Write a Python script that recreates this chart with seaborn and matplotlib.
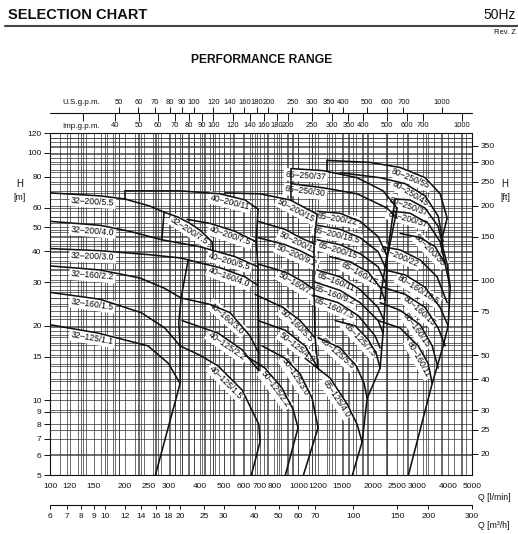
"""
Pump selection chart (50Hz performance range) on log-log Q-H axes.
"""

import matplotlib
matplotlib.use("Agg")
import matplotlib.pyplot as plt
import matplotlib.ticker as mticker
import matplotlib.transforms as mtransforms
from matplotlib.lines import Line2D
import seaborn as sns
import numpy as np

# unit conversions (everything is plotted in l/min and m)
LPM_PER_M3H = 1000.0 / 60.0
LPM_PER_USGPM = 3.785
LPM_PER_IMPGPM = 4.546
M_PER_FT = 0.3048

# axis ticks
Q_LPM_TICKS = [100, 120, 150, 200, 250, 300, 400, 500, 600, 700, 800, 1000,
               1200, 1500, 2000, 2500, 3000, 4000, 5000]
Q_M3H_TICKS = [6, 7, 8, 9, 10, 12, 14, 16, 18, 20, 25, 30, 40, 50, 60, 70,
               100, 150, 200, 300]
USGPM_TICKS = [50, 60, 70, 80, 90, 100, 120, 140, 160, 180, 200, 250, 300,
               350, 400, 500, 600, 700, 1000]
IMPGPM_TICKS = [40, 50, 60, 70, 80, 90, 100, 120, 140, 160, 180, 200, 250,
                300, 350, 400, 500, 600, 700, 1000]
H_M_TICKS = [5, 6, 7, 8, 9, 10, 15, 20, 30, 40, 50, 60, 80, 100, 120]
H_FT_TICKS = [20, 25, 30, 40, 50, 75, 100, 150, 200, 250, 300, 350]

# --- 32 series ---
GROUP32_LABELS = ["32–200/5.5", "32–200/7.5", "32–200/4.0", "32–200/3.0",
                  "32–160/2.2", "32–160/1.5", "32–125/1.1"]
GROUP32_Q = [[100, 159, 200, 253, 288],
             [288, 328, 366, 402, 449, 454],
             [100, 159, 210, 282],
             [100, 159, 253, 334, 360],
             [100, 159, 230, 290, 337],
             [100, 159, 233, 290, 334],
             [100, 156, 248, 300, 334]]
GROUP32_H = [[68.8, 66.9, 65.0, 60.8, 57.5],
             [57.5, 54.9, 51.8, 48.6, 43.7, 39.4],
             [52.8, 50.9, 48.1, 44.5],
             [41.0, 40.2, 38.7, 37.6, 36.9],
             [34.9, 33.6, 31.2, 28.3, 25.9],
             [27.3, 25.6, 22.6, 19.6, 16.6],
             [20.2, 18.7, 16.6, 14.1, 11.7]]
GROUP32_EDGE_Q = [[288, 282], [200, 200], [360, 337, 330, 334, 334, 265]]
GROUP32_EDGE_H = [[57.5, 44.5], [65.0, 70.1], [36.9, 25.9, 20.6, 16.6, 11.7, 4.95]]

# --- 40 series ---
GROUP40_LABELS = ["40–200/11", "40–200/7.5", "40–200/5.5", "40–160/4.0",
                  "40–160/3.0", "40–125/2.2", "40–125/1.5"]
GROUP40_Q = [[200, 334, 484, 610, 688],
             [356, 441, 556, 676],
             [282, 402, 556, 688],
             [360, 484, 610, 688],
             [337, 441, 531, 639, 693],
             [340, 474, 594, 693],
             [334, 402, 474, 594, 693, 701]]
GROUP40_H = [[70.1, 70.1, 68.2, 64.4, 59.1],
             [53.8, 51.8, 48.1, 43.7],
             [44.5, 41.7, 38.0, 34.6],
             [36.9, 34.3, 31.5, 29.1],
             [25.9, 24.4, 22.6, 18.2, 15.5],
             [21.0, 18.7, 16.0, 13.2],
             [16.6, 15.2, 13.8, 11.0, 8.0, 6.8]]
GROUP40_EDGE_Q = [[688, 676, 688, 688, 693, 693], [701, 645]]
GROUP40_EDGE_H = [[59.1, 43.7, 34.6, 29.1, 15.5, 13.2], [6.8, 4.95]]

# --- 50 series ---
GROUP50_LABELS = ["50–200/15", "50–200/11", "50–200/9.2", "50–160/7.5",
                  "50–160/5.5", "50–125/4.0", "50–125/3.0", "50–125/2.2"]
GROUP50_Q = [[507, 701, 926, 1190],
             [688, 884, 1016, 1156],
             [688, 884, 1016, 1156],
             [688, 884, 1016, 1156],
             [669, 868, 1016, 1168],
             [688, 884, 1064, 1200],
             [714, 884, 1016, 1136, 1200],
             [610, 734, 860, 952, 997]]
GROUP50_H = [[68.8, 68.2, 64.4, 56.4],
             [52.8, 49.0, 45.4, 42.9],
             [45.4, 42.5, 40.2, 37.6],
             [35.5, 33.0, 30.6, 28.1],
             [26.8, 23.7, 21.0, 17.9],
             [21.0, 19.2, 16.6, 13.5],
             [16.6, 14.8, 12.8, 10.2, 7.76],
             [15.2, 13.5, 11.2, 9.2, 7.76]]
GROUP50_EDGE_Q = [[1190, 1156, 1156, 1156, 1168, 1200], [997, 884], [1200, 1045]]
GROUP50_EDGE_H = [[56.4, 42.9, 37.6, 28.1, 17.9, 13.5], [7.76, 4.95], [7.76, 4.95]]

# --- 65 series ---
GROUP65_LABELS = ["65–250/37", "65–250/30", "65–200/22", "65–200/18.5",
                  "65–200/15", "65–160/15", "65–160/11", "65–160/9.2",
                  "65–160/7.5", "65–125/7.5", "65–125/5.5", "65–125/4.0"]
GROUP65_Q = [[935, 1257, 1724, 2193, 2498],
             [935, 1257, 1724, 2277, 2498],
             [1190, 1472, 1772, 2095, 2282],
             [1190, 1472, 1772, 2095, 2235],
             [1190, 1472, 1772, 2095, 2235],
             [1342, 1615, 1909, 2133, 2235],
             [1190, 1472, 1772, 2095, 2214],
             [1168, 1472, 1772, 2095, 2193],
             [1146, 1446, 1740, 2037, 2133],
             [1406, 1692, 1909, 2056, 2133],
             [1201, 1472, 1708, 1840, 1892],
             [1064, 1342, 1571, 1724, 1805]]
GROUP65_H = [[86.2, 84.6, 79.2, 70.1, 59.7],
             [74.9, 72.1, 68.2, 59.7, 54.4],
             [58.0, 56.9, 52.8, 45.8, 38.0],
             [50.9, 49.0, 45.4, 39.8, 34.6],
             [44.5, 42.5, 39.1, 34.6, 30.0],
             [38.0, 36.2, 33.0, 28.6, 25.3],
             [33.6, 31.5, 28.0, 23.7, 21.0],
             [30.0, 27.8, 24.8, 21.0, 18.7],
             [26.6, 24.8, 22.0, 18.2, 16.3],
             [21.0, 20.0, 17.6, 15.5, 13.5],
             [17.9, 16.3, 13.8, 11.7, 10.2],
             [14.8, 12.3, 9.67, 8.0, 6.8]]
GROUP65_EDGE_Q = [[935, 935], [2498, 2282, 2235, 2193, 2133, 1892, 1805], [1805, 1645]]
GROUP65_EDGE_H = [[86.2, 64.4], [59.7, 38.0, 25.3, 18.7, 13.5, 10.2, 6.8], [6.8, 4.95]]

# --- 80 series ---
GROUP80_LABELS = ["80–250/55", "80–250/45", "80–250/37", "80–200/37",
                  "80–200/30", "80–200/22", "80–160/18.5", "80–160/15",
                  "80–160/15", "80–160/11"]
GROUP80_Q = [[1305, 1945, 2568, 3238, 3722, 3971],
             [1472, 2133, 2690, 3238, 3653, 3827],
             [2452, 2818, 3238, 3653, 3827],
             [2405, 2818, 3329, 3722, 3899],
             [2568, 3092, 3553, 3899, 4084],
             [2193, 2568, 3092, 3619, 3971],
             [2235, 2690, 3238, 3722, 4009],
             [2193, 2690, 3238, 3653, 3899],
             [2133, 2568, 3092, 3457, 3653],
             [2095, 2568, 3035, 3329, 3457]]
GROUP80_H = [[93.0, 91.3, 87.1, 79.2, 68.2, 54.4],
             [83.0, 79.2, 74.9, 66.9, 55.4, 43.7],
             [65.0, 64.4, 59.7, 50.4, 41.7],
             [58.0, 56.9, 51.8, 43.7, 35.5],
             [47.2, 45.4, 41.7, 35.5, 28.6],
             [41.7, 40.5, 36.9, 31.5, 24.8],
             [33.6, 32.1, 28.6, 23.7, 20.0],
             [28.6, 26.8, 23.7, 19.6, 16.6],
             [24.8, 23.1, 20.2, 16.6, 13.5],
             [21.0, 19.6, 16.6, 14.1, 11.7]]
GROUP80_EDGE_Q = [[1305, 1305], [2452, 2341, 2133],
                  [3971, 3757, 3971, 4084, 4009, 3827, 3457], [3457, 2766]]
GROUP80_EDGE_H = [[93.0, 84.6], [65.0, 46.7, 25.6],
                  [54.4, 43.7, 35.5, 28.6, 20.0, 16.6, 11.7], [11.7, 4.95]]

# where each model label sits along its curve (l/min)
GROUP32_LABEL_AT = [149, 376, 149, 149, 149, 149, 149]
GROUP40_LABEL_AT = [536, 541, 536, 536, 536, 531, 531]
GROUP50_LABEL_AT = [1007, 1016, 1007, 1016, 1025, 1025, 1016, 844]
GROUP65_LABEL_AT = [1074, 1074, 1446, 1446, 1459, 1805, 1446, 1432, 1432, 1840, 1486, 1486]
GROUP80_LABEL_AT = [2897, 2897, 2844, 2792, 3520, 2616, 3121, 3180, 3121, 3209]

# ---------------------------------------------------------------------------
sns.set_style("white")
plt.rcParams['font.family'] = ['Liberation Sans Narrow', 'Liberation Sans', 'DejaVu Sans']
plt.rcParams['axes.linewidth'] = 0.8

INK = '#111111'
GRID = '#333333'

fig = plt.figure(figsize=(5.18, 5.34), dpi=100)
ax = fig.add_axes([50 / 518, 59 / 534, 422 / 518, 342 / 534])
ax.set_xscale('log')
ax.set_yscale('log')
ax.set_xlim(100, 5000)
ax.set_ylim(5, 120)

# grid built from the unit scales shown around the chart
lpm_grid = (list(range(100, 200, 10)) + list(range(200, 500, 20)) + list(range(500, 1000, 50))
            + list(range(1000, 2000, 100)) + list(range(2000, 5001, 250)))
q_grid = sorted(set(lpm_grid) | {v * LPM_PER_M3H for v in Q_M3H_TICKS}
                | {v * LPM_PER_USGPM for v in USGPM_TICKS}
                | {v * LPM_PER_IMPGPM for v in IMPGPM_TICKS + [30]})
m_grid = list(range(5, 20)) + list(range(20, 50, 2)) + list(range(50, 121, 5))
ft_grid = list(range(20, 100, 5)) + list(range(100, 200, 10)) + list(range(200, 400, 25))
h_grid = sorted(set(m_grid) | {v * M_PER_FT for v in ft_grid})
q_grid = [v for v in q_grid if 100 <= v <= 5000]
h_grid = [v for v in h_grid if 5 <= v <= 120]
ax.vlines(q_grid, 5, 120, color=GRID, lw=0.5, zorder=1)
ax.hlines(h_grid, 100, 5000, color=GRID, lw=0.5, zorder=1)


def label_curve(text, q, h, q_at, offset=6.0):
    pts = ax.transData.transform(np.column_stack([q, h]))
    xs, ys = pts[:, 0], pts[:, 1]
    xa = ax.transData.transform([[q_at, 10]])[0, 0]
    ya = np.interp(xa, xs, ys)
    y1 = np.interp(xa - 4, xs, ys)
    y2 = np.interp(xa + 4, xs, ys)
    ang = np.arctan2(y2 - y1, 8.0)
    cx = xa + offset * np.sin(ang)
    cy = ya - offset * np.cos(ang)
    qc, hc = ax.transData.inverted().transform([[cx, cy]])[0]
    ax.text(qc, hc, text, rotation=np.degrees(ang), rotation_mode='anchor',
            ha='center', va='center', fontsize=6.2, color='#000000', zorder=2,
            bbox=dict(boxstyle='square,pad=0.2', fc='white', ec='none'))


groups = [
    (GROUP32_LABELS, GROUP32_Q, GROUP32_H, GROUP32_LABEL_AT, GROUP32_EDGE_Q, GROUP32_EDGE_H),
    (GROUP40_LABELS, GROUP40_Q, GROUP40_H, GROUP40_LABEL_AT, GROUP40_EDGE_Q, GROUP40_EDGE_H),
    (GROUP50_LABELS, GROUP50_Q, GROUP50_H, GROUP50_LABEL_AT, GROUP50_EDGE_Q, GROUP50_EDGE_H),
    (GROUP65_LABELS, GROUP65_Q, GROUP65_H, GROUP65_LABEL_AT, GROUP65_EDGE_Q, GROUP65_EDGE_H),
    (GROUP80_LABELS, GROUP80_Q, GROUP80_H, GROUP80_LABEL_AT, GROUP80_EDGE_Q, GROUP80_EDGE_H),
]
for labels, qs, hs, at, eq, eh in groups:
    for name, q, h, qa in zip(labels, qs, hs, at):
        sns.lineplot(x=q, y=h, ax=ax, sort=False, estimator=None,
                     color=INK, linewidth=1.15, zorder=3)
        label_curve(name, q, h, qa)
    for q, h in zip(eq, eh):
        sns.lineplot(x=q, y=h, ax=ax, sort=False, estimator=None,
                     color=INK, linewidth=1.15, zorder=3)

# left / bottom axes
ax.xaxis.set_minor_locator(mticker.NullLocator())
ax.yaxis.set_minor_locator(mticker.NullLocator())
ax.set_xticks(Q_LPM_TICKS)
ax.set_xticklabels([str(v) for v in Q_LPM_TICKS])
ax.set_yticks(H_M_TICKS)
ax.set_yticklabels([str(v) for v in H_M_TICKS])
ax.tick_params(axis='both', direction='out', length=4, width=0.7,
               labelsize=6, pad=2, color=INK, labelcolor=INK)
ax.set_xlabel('')
ax.set_ylabel('')
for s in ax.spines.values():
    s.set_color(INK)

# right axis in feet
ax2 = ax.twinx()
ax2.set_yscale('log')
ax2.set_ylim(5 / M_PER_FT, 120 / M_PER_FT)
ax2.yaxis.set_minor_locator(mticker.NullLocator())
ax2.set_yticks(H_FT_TICKS)
ax2.set_yticklabels([str(v) for v in H_FT_TICKS])
ax2.tick_params(axis='y', direction='out', length=4, width=0.7,
                labelsize=6, pad=2, color=INK, labelcolor=INK)
for s in ax2.spines.values():
    s.set_visible(False)

# top flow scales (U.S. and Imperial gallons per minute)
tr = mtransforms.blended_transform_factory(ax.transData, ax.transAxes)
y_line = (475 - 113) / 342
ax.plot([100, 5000], [y_line, y_line], color=INK, lw=0.8, transform=tr, clip_on=False)
us_q = [v * LPM_PER_USGPM for v in USGPM_TICKS]
imp_q = [v * LPM_PER_IMPGPM for v in IMPGPM_TICKS]
ax.vlines(us_q, y_line, y_line + 6 / 342, color=INK, lw=0.7, transform=tr, clip_on=False)
ax.vlines(imp_q + [30 * LPM_PER_IMPGPM], y_line - 8 / 342, y_line, color=INK, lw=0.7,
          transform=tr, clip_on=False)
for v, q in zip(USGPM_TICKS, us_q):
    ax.text(q, (475 - 103) / 342, str(v), transform=tr, ha='center', va='center',
            fontsize=5.4, color=INK)
for v, q in zip(IMPGPM_TICKS, imp_q):
    ax.text(q, (475 - 126) / 342, str(v), transform=tr, ha='center', va='center',
            fontsize=5.4, color=INK)
fig.text(81 / 518, 1 - 103 / 534, 'U.S.g.p.m.', ha='center', va='center', fontsize=5.8, color=INK)
fig.text(81 / 518, 1 - 126 / 534, 'Imp.g.p.m.', ha='center', va='center', fontsize=5.8, color=INK)

# bottom m3/h scale
y_m3 = (475 - 505) / 342
ax.plot([100, 5000], [y_m3, y_m3], color=INK, lw=0.8, transform=tr, clip_on=False)
m3_q = [v * LPM_PER_M3H for v in Q_M3H_TICKS]
ax.vlines(m3_q, y_m3 - 4 / 342, y_m3, color=INK, lw=0.7, transform=tr, clip_on=False)
for v, q in zip(Q_M3H_TICKS, m3_q):
    ax.text(q, (475 - 516) / 342, str(v), transform=tr, ha='center', va='center',
            fontsize=6, color=INK)

# axis titles
fig.text(478 / 518, 1 - 497 / 534, 'Q [l/min]', ha='left', va='center', fontsize=6.3, color=INK)
fig.text(478 / 518, 1 - 525 / 534, 'Q [m³/h]', ha='left', va='center', fontsize=6.3, color=INK)
fig.text(20 / 518, 1 - 184 / 534, 'H', ha='center', va='center', fontsize=7, color=INK)
fig.text(20 / 518, 1 - 198 / 534, '[m]', ha='center', va='center', fontsize=6.3, color=INK)
fig.text(505 / 518, 1 - 184 / 534, 'H', ha='center', va='center', fontsize=7, color=INK)
fig.text(505 / 518, 1 - 198 / 534, '[ft]', ha='center', va='center', fontsize=6.3, color=INK)

# page header
fig.text(8 / 518, 1 - 15 / 534, 'SELECTION CHART', ha='left', va='center',
         fontsize=10.5, fontweight='bold', family='Liberation Sans', color='#111111')
fig.text(516 / 518, 1 - 15 / 534, '50Hz', ha='right', va='center',
         fontsize=10, family='Liberation Sans', color='#111111')
fig.add_artist(Line2D([5 / 518, 1.0], [1 - 25.5 / 534] * 2, color='#444444', lw=1.5))
fig.text(516 / 518, 1 - 32 / 534, 'Rev. Z', ha='right', va='center',
         fontsize=5.5, family='Liberation Sans', color='#111111')
fig.text(262 / 518, 1 - 60 / 534, 'PERFORMANCE RANGE', ha='center', va='center',
         fontsize=8.7, fontweight='bold', family='Liberation Sans', color='#111111')

fig.savefig('out.png', dpi=100, facecolor='white')
